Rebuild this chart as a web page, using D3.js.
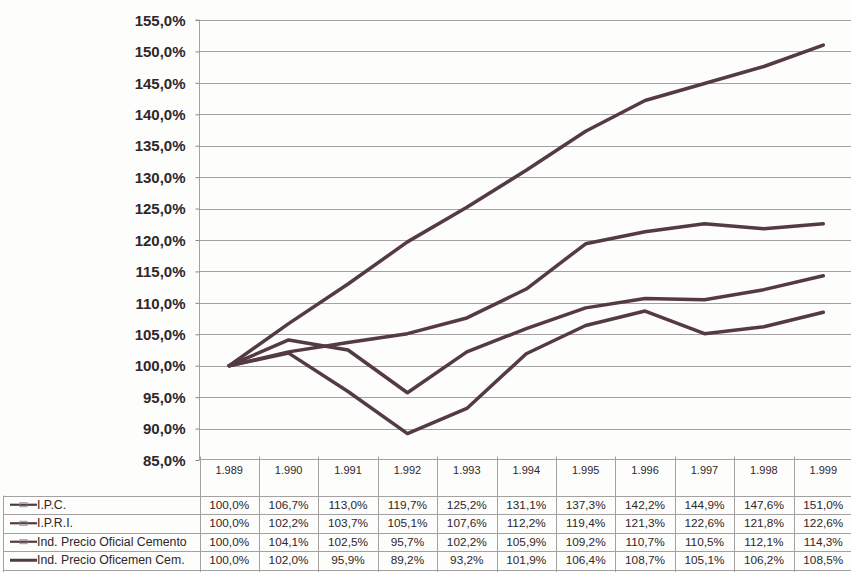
<!DOCTYPE html>
<html>
<head>
<meta charset="utf-8">
<script src="https://cdn.jsdelivr.net/npm/d3@7/dist/d3.min.js"></script>
<style>
  html, body { margin: 0; padding: 0; background: #fdfdfb; }
  svg { display: block; }
</style>
</head>
<body>
<svg id="chart" width="851" height="572"></svg>
<script>
const years = [1989, 1990, 1991, 1992, 1993, 1994, 1995, 1996, 1997, 1998, 1999];
const seriesNames = ["I.P.C.", "I.P.R.I.", "Ind. Precio Oficial Cemento", "Ind. Precio Oficemen Cem."];
const ipc      = [100.0, 106.7, 113.0, 119.7, 125.2, 131.1, 137.3, 142.2, 144.9, 147.6, 151.0];
const ipri     = [100.0, 102.2, 103.7, 105.1, 107.6, 112.2, 119.4, 121.3, 122.6, 121.8, 122.6];
const cemento  = [100.0, 104.1, 102.5, 95.7, 102.2, 105.9, 109.2, 110.7, 110.5, 112.1, 114.3];
const oficemen = [100.0, 102.0, 95.9, 89.2, 93.2, 101.9, 106.4, 108.7, 105.1, 106.2, 108.5];
const yTicks = [85, 90, 95, 100, 105, 110, 115, 120, 125, 130, 135, 140, 145, 150, 155];

const seriesValues = [ipc, ipri, cemento, oficemen];

const loc = d3.formatLocale({decimal: ",", thousands: ".", grouping: [3], currency: ["", ""]});
const fmtPct = v => loc.format(".1f")(v) + "%";
const fmtYear = loc.format(",");

const svg = d3.select("#chart");
const lineColor = "#543a45";
const gridColor = "#a3a1a1";
const textColor = "#2f272b";

const plotLeft = 199.5, plotRight = 853, plotTop = 20, plotBottom = 460;
const x = d3.scaleBand().domain(years).range([plotLeft, plotRight]).padding(0);
const y = d3.scaleLinear().domain([85, 155]).range([plotBottom, plotTop]);
const cx = d => x(d) + x.bandwidth() / 2;

// gridlines
svg.append("g").selectAll("line").data(yTicks.filter(t => t > 85)).join("line")
  .attr("x1", plotLeft).attr("x2", 851)
  .attr("y1", d => Math.round(y(d)) + 0.5).attr("y2", d => Math.round(y(d)) + 0.5)
  .attr("stroke", gridColor).attr("stroke-width", 1);

// y axis
const yAxis = d3.axisLeft(y).tickValues(yTicks).tickSize(4).tickPadding(10).tickFormat(fmtPct);
const ga = svg.append("g").attr("transform", `translate(${plotLeft},0)`).call(yAxis);
ga.select(".domain").attr("stroke", gridColor).attr("d", `M-4,${plotTop}H0V${plotBottom}`);
ga.selectAll(".tick line").attr("stroke", "#888");
ga.selectAll(".tick text")
  .attr("font-family", "Liberation Sans, Arial, sans-serif")
  .attr("font-size", 15).attr("font-weight", "bold").attr("fill", textColor)
  .attr("dy", "0.35em");

// lines
const line = d3.line().x((d, i) => cx(years[i])).y(d => y(d));
svg.append("g").selectAll("path").data(seriesValues).join("path")
  .attr("d", d => line(d))
  .attr("fill", "none").attr("stroke", lineColor)
  .attr("stroke-width", 3.5).attr("stroke-linejoin", "round").attr("stroke-linecap", "round");

// data table
const headerTop = 459.5, headerBottom = 495.5, rowH = 18.5;
const tbl = svg.append("g");
const tableBottom = 572;
tbl.append("line").attr("x1", plotLeft).attr("x2", 851).attr("y1", headerTop).attr("y2", headerTop)
  .attr("stroke", gridColor);
const rowLines = d3.range(seriesNames.length + 1).map(i => headerBottom + i * rowH);
tbl.selectAll("line.h").data(rowLines).join("line").attr("class", "h")
  .attr("x1", 3).attr("x2", 851)
  .attr("y1", d => Math.round(d) + 0.5).attr("y2", d => Math.round(d) + 0.5)
  .attr("stroke", gridColor);
const vBounds = years.map(d => x(d)).concat([plotRight]);
tbl.selectAll("line.v").data(vBounds).join("line").attr("class", "v")
  .attr("x1", d => Math.round(d) + 0.5).attr("x2", d => Math.round(d) + 0.5)
  .attr("y1", headerTop - 3).attr("y2", tableBottom)
  .attr("stroke", gridColor);
tbl.append("line").attr("x1", 3.5).attr("x2", 3.5).attr("y1", headerBottom).attr("y2", tableBottom)
  .attr("stroke", gridColor);

// year header
tbl.selectAll("text.yr").data(years).join("text").attr("class", "yr")
  .attr("x", d => cx(d)).attr("y", 474)
  .attr("text-anchor", "middle")
  .attr("font-family", "Liberation Sans, Arial, sans-serif").attr("font-size", 11)
  .attr("fill", textColor).text(d => fmtYear(d));

// rows
seriesNames.forEach((name, r) => {
  const yc = headerBottom + r * rowH + rowH / 2;
  tbl.append("line").attr("x1", 10).attr("x2", 37).attr("y1", yc).attr("y2", yc)
    .attr("stroke", lineColor).attr("stroke-width", r === 3 ? 3 : 2.2);
  if (r < 3) {
    tbl.append("rect").attr("x", 20).attr("y", yc - 2).attr("width", 7).attr("height", 4)
      .attr("fill", "none").attr("stroke", "#8a7a80").attr("stroke-width", 0.8);
  }
  tbl.append("text").attr("x", 37).attr("y", yc + 4)
    .attr("font-family", "Liberation Sans, Arial, sans-serif").attr("font-size", 12.3)
    .attr("fill", textColor).text(name);
  tbl.selectAll(null).data(seriesValues[r]).join("text")
    .attr("x", (d, i) => cx(years[i])).attr("y", yc + 4)
    .attr("text-anchor", "middle")
    .attr("font-family", "Liberation Sans, Arial, sans-serif").attr("font-size", 11.8)
    .attr("fill", textColor).text(d => fmtPct(d));
});
</script>
</body>
</html>
